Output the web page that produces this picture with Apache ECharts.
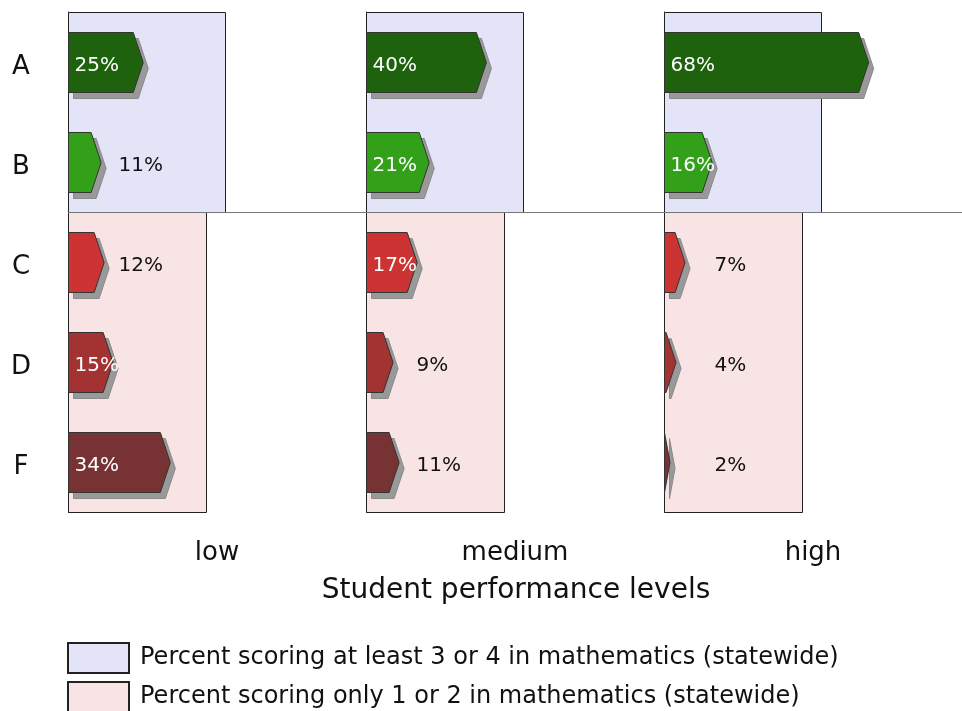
<!DOCTYPE html>
<html>
<head>
<meta charset="utf-8">
<style>
html,body{margin:0;padding:0;background:#fff;}
#chart{width:962px;height:711px;}
</style>
<script src="https://cdn.jsdelivr.net/npm/echarts@6/dist/echarts.min.js"></script>
</head>
<body>
<div id="chart"></div>
<script>
// ---- data ----
var grades = ['A', 'B', 'C', 'D', 'F'];
var levels = ['low', 'medium', 'high'];
var lowValues = [25, 11, 12, 15, 34];
var mediumValues = [40, 21, 17, 9, 11];
var highValues = [68, 16, 7, 4, 2];
var statewideHigh = [52, 52, 52];   // percent scoring at least 3 or 4
var statewideLow = [46, 46, 46];    // percent scoring only 1 or 2
var gradeColors = ['#1e620e', '#33a01a', '#cc3333', '#a33232', '#773333'];
var legendHigh = 'Percent scoring at least 3 or 4 in mathematics (statewide)';
var legendLow = 'Percent scoring only 1 or 2 in mathematics (statewide)';
var axisTitle = 'Student performance levels';

var panelValues = [lowValues, mediumValues, highValues];
var FONT = 'DejaVu Sans';

var chart = echarts.init(document.getElementById('chart'));

var grids = [], xAxes = [], yAxes = [], series = [];
var PANEL_W = 298, LEFT0 = 68;

levels.forEach(function (lv, i) {
  grids.push({left: LEFT0 + i * PANEL_W, top: 12, width: PANEL_W, height: 500, containLabel: false});
  xAxes.push({
    gridIndex: i, type: 'value', min: 0, max: 99,
    axisLine: {show: false}, axisTick: {show: false}, axisLabel: {show: false}, splitLine: {show: false},
    name: lv, nameLocation: 'middle', nameGap: 28,
    nameTextStyle: {fontFamily: FONT, fontSize: 26, color: '#111', verticalAlign: 'top'}
  });
  yAxes.push({
    gridIndex: i, type: 'category', data: grades, inverse: true,
    axisLine: {show: true, lineStyle: {color: '#222', width: 1}},
    axisTick: {show: true, inside: true, length: 10, lineStyle: {color: '#666'}},
    axisLabel: {show: i === 0, align: 'center', margin: 47,
      formatter: '{g|{value}}',
      rich: {g: {fontFamily: FONT, fontSize: 26, color: '#111', padding: [10, 0, 0, 0]}}},
    splitLine: {show: false}
  });

  // background rectangles
  var bgRender = function (params, api) {
    var v = api.value(0), from = api.value(1), to = api.value(2);
    var band = api.size([0, 1])[1];
    var a = api.coord([0, from]), b = api.coord([v, to]);
    var x0 = Math.round(a[0]) + 0.5, y0 = Math.round(a[1] - band / 2) + 0.5;
    var x1 = Math.round(b[0]) + 0.5, y1 = Math.round(b[1] + band / 2) + 0.5;
    return {
      type: 'rect',
      shape: {x: x0, y: y0, width: x1 - x0, height: y1 - y0},
      style: {fill: api.visual('color'), stroke: '#222', lineWidth: 1}
    };
  };
  series.push({
    type: 'custom', name: legendHigh, xAxisIndex: i, yAxisIndex: i, z: 1,
    itemStyle: {color: '#e3e4f7', borderColor: '#222', borderWidth: 1},
    renderItem: bgRender, clip: false,
    encode: {x: 0, y: [1, 2]},
    data: [[statewideHigh[i], 0, 1]]
  });
  series.push({
    type: 'custom', name: legendLow, xAxisIndex: i, yAxisIndex: i, z: 1,
    itemStyle: {color: '#f9e4e5', borderColor: '#222', borderWidth: 1},
    renderItem: bgRender, clip: false,
    encode: {x: 0, y: [1, 2]},
    data: [[statewideLow[i], 2, 4]]
  });

  // arrow bars
  series.push({
    type: 'custom', name: lv + ' bars', xAxisIndex: i, yAxisIndex: i, z: 5,
    clip: false, silent: true,
    encode: {x: 0, y: 1},
    data: panelValues[i].map(function (v, k) { return [v, k]; }),
    renderItem: function (params, api) {
      var v = api.value(0), c = api.value(1);
      var p0 = api.coord([0, c]), p1 = api.coord([v, c]);
      var band = api.size([0, 1])[1];
      var h = band * 0.6;
      var x0 = Math.round(p0[0]) + 0.5, xv = p1[0];
      var d = Math.min(10, xv - x0);
      var top = Math.round(p0[1] - h / 2) + 0.5, bot = top + h, mid = (top + bot) / 2;
      var pts = [[x0, top], [xv - d, top], [xv, mid], [xv - d, bot], [x0, bot]];
      var sh = pts.map(function (p) { return [p[0] + 5, p[1] + 6]; });
      var inside = v >= 13;
      return {
        type: 'group',
        children: [
          {type: 'polygon', shape: {points: sh}, style: {fill: '#999', stroke: '#8a8a8a', lineWidth: 1}},
          {type: 'polygon', shape: {points: pts}, style: {fill: gradeColors[c], stroke: '#333', lineWidth: 1}},
          {type: 'text', z2: 10, style: {
            text: v + '%', x: inside ? x0 + 6 : x0 + 50, y: mid + 3,
            fill: inside ? '#fff' : '#111', font: '20px "DejaVu Sans"',
            align: 'left', verticalAlign: 'middle'
          }}
        ]
      };
    }
  });
});

// divider line between B and C spanning the width
series.push({
  type: 'custom', name: 'divider', xAxisIndex: 0, yAxisIndex: 0, z: 3, clip: false, silent: true,
  encode: {x: 0, y: 1},
  data: [[0, 1]],
  renderItem: function (params, api) {
    var p = api.coord([0, api.value(1)]);
    var band = api.size([0, 1])[1];
    var y = Math.round(p[1] + band / 2) + 0.5;
    return {type: 'line', shape: {x1: p[0], y1: y, x2: api.getWidth(), y2: y},
      style: {stroke: '#777', lineWidth: 1}};
  }
});

var legendBase = {
  orient: 'vertical', left: 67, padding: 0,
  itemWidth: 61, itemHeight: 30, icon: 'rect',
  selectedMode: false,
  itemStyle: {borderColor: '#222', borderWidth: 2},
  textStyle: {fontFamily: FONT, fontSize: 24, color: '#111', padding: [0, 0, 0, 6]}
};

chart.setOption({
  animation: false,
  backgroundColor: '#fff',
  textStyle: {fontFamily: FONT},
  grid: grids,
  xAxis: xAxes,
  yAxis: yAxes,
  legend: [
    Object.assign({}, legendBase, {data: [legendHigh], top: 642}),
    Object.assign({}, legendBase, {data: [legendLow], top: 681})
  ],
  graphic: [{
    type: 'text', x: 516, y: 591,
    style: {text: axisTitle, font: '28px "DejaVu Sans"', fill: '#111', align: 'center', verticalAlign: 'middle'}
  }],
  series: series
});
</script>
</body>
</html>
